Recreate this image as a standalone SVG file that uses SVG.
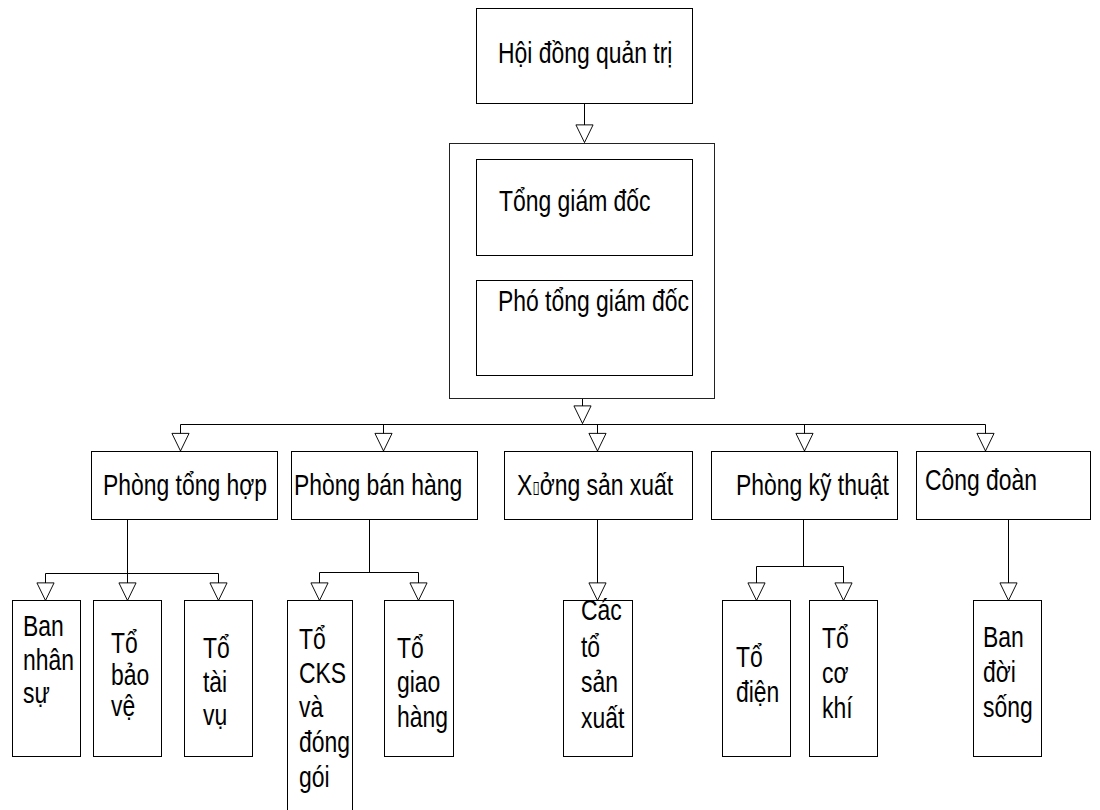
<svg xmlns="http://www.w3.org/2000/svg" width="1100" height="810" viewBox="0 0 1100 810">
  <style>
    .box { fill: #fff; stroke: #000; stroke-width: 1; }
    .frame { fill: #fff; stroke: #222; stroke-width: 1; }
    .lbl { font-family: "Liberation Sans", Arial, sans-serif; font-size: 29px; fill: #000; }
    .wire { fill: none; stroke: #000; stroke-width: 1; }
    .arrow { marker-end: url(#tri); }
    .tofu { font-family: "DejaVu Sans", sans-serif; font-size: 17px; }
  </style>
  <defs>
    <!-- hollow triangular arrowhead; tip sits on the end of the line -->
    <marker id="tri" markerUnits="userSpaceOnUse" markerWidth="20" markerHeight="20" refX="18.5" refY="9" orient="auto" viewBox="-1 -1 21 20">
      <path d="M0,0 L18.5,9 L0,18 Z" fill="#fff" stroke="#000" stroke-width="1"/>
    </marker>
  </defs>

  <rect width="1100" height="810" fill="#fff"/>

  <!-- connectors -->
  <g id="connectors">
    <path class="wire arrow" d="M584.5,103 V142.5"/>
    <path class="wire arrow" d="M582.5,398 V423.5"/>
    <path class="wire" d="M180.5,424.5 H985.5"/>
    <path class="wire arrow" d="M180.5,424.5 V451"/>
    <path class="wire arrow" d="M383.5,424.5 V451"/>
    <path class="wire arrow" d="M597.5,424.5 V451"/>
    <path class="wire arrow" d="M804.5,424.5 V451"/>
    <path class="wire arrow" d="M985.5,424.5 V451"/>

    <!-- Phòng tổng hợp branch -->
    <path class="wire" d="M127.5,519 V573.5 M45.5,573.5 H218.5"/>
    <path class="wire arrow" d="M45.5,573.5 V600.5"/>
    <path class="wire arrow" d="M127.5,573.5 V600.5"/>
    <path class="wire arrow" d="M218.5,573.5 V600.5"/>

    <!-- Phòng bán hàng branch -->
    <path class="wire" d="M369.5,519 V572.5 M319.5,572.5 H418.5"/>
    <path class="wire arrow" d="M319.5,572.5 V600.5"/>
    <path class="wire arrow" d="M418.5,572.5 V600.5"/>

    <!-- Xưởng sản xuất branch -->
    <path class="wire arrow" d="M597.5,519 V600.5"/>

    <!-- Phòng kỹ thuật branch -->
    <path class="wire" d="M803.5,519 V566.5 M756.5,566.5 H843.5"/>
    <path class="wire arrow" d="M756.5,566.5 V600.5"/>
    <path class="wire arrow" d="M843.5,566.5 V600.5"/>

    <!-- Công đoàn branch -->
    <path class="wire arrow" d="M1008.5,519 V600.5"/>
  </g>

  <!-- board -->
  <g id="hoi-dong-quan-tri">
    <rect class="box" x="476.5" y="8.5" width="216" height="95"/>
    <text class="lbl" transform="translate(498,63) scale(0.79,1)">Hội đồng quản trị</text>
  </g>

  <!-- management block -->
  <g id="ban-giam-doc">
    <rect class="frame" x="449.5" y="143.5" width="265" height="255"/>
  </g>
  <g id="tong-giam-doc">
    <rect class="box" x="476.5" y="159.5" width="216" height="96"/>
    <text class="lbl" transform="translate(499,211) scale(0.79,1)">Tổng giám đốc</text>
  </g>
  <g id="pho-tong-giam-doc">
    <rect class="box" x="476.5" y="280.5" width="216" height="95"/>
    <text class="lbl" transform="translate(498,311) scale(0.79,1)">Phó tổng giám đốc</text>
  </g>

  <!-- departments -->
  <g id="phong-tong-hop">
    <rect class="box" x="91.5" y="451.5" width="186" height="68"/>
    <text class="lbl" transform="translate(103,495) scale(0.79,1)">Phòng tổng hợp</text>
  </g>
  <g id="phong-ban-hang">
    <rect class="box" x="291.5" y="451.5" width="186" height="68"/>
    <text class="lbl" transform="translate(294,495) scale(0.79,1)">Phòng bán hàng</text>
  </g>
  <g id="xuong-san-xuat">
    <rect class="box" x="504.5" y="451.5" width="188" height="68"/>
    <text class="lbl" transform="translate(517,495) scale(0.79,1)">X<tspan class="tofu" dy="-2">▯</tspan><tspan dy="2">ởng sản xuất</tspan></text>
  </g>
  <g id="phong-ky-thuat">
    <rect class="box" x="711.5" y="451.5" width="186" height="68"/>
    <text class="lbl" transform="translate(736,495) scale(0.79,1)">Phòng kỹ thuật</text>
  </g>
  <g id="cong-doan">
    <rect class="box" x="916.5" y="451.5" width="174" height="68"/>
    <text class="lbl" transform="translate(925,490) scale(0.79,1)">Công đoàn</text>
  </g>

  <!-- teams -->
  <g id="ban-nhan-su">
    <rect class="box" x="12.5" y="600.5" width="68" height="156"/>
    <text class="lbl" transform="translate(23,636) scale(0.79,1)"><tspan x="0" y="0">Ban</tspan><tspan x="0" y="34">nhân</tspan><tspan x="0" y="67">sự</tspan></text>
  </g>
  <g id="to-bao-ve">
    <rect class="box" x="93.5" y="600.5" width="68" height="156"/>
    <text class="lbl" transform="translate(111,653) scale(0.79,1)"><tspan x="0" y="0">Tổ</tspan><tspan x="0" y="32">bảo</tspan><tspan x="0" y="63">vệ</tspan></text>
  </g>
  <g id="to-tai-vu">
    <rect class="box" x="184.5" y="600.5" width="68" height="156"/>
    <text class="lbl" transform="translate(203,658) scale(0.79,1)"><tspan x="0" y="0">Tổ</tspan><tspan x="0" y="34">tài</tspan><tspan x="0" y="67">vụ</tspan></text>
  </g>
  <g id="to-cks-dong-goi">
    <rect class="box" x="287.5" y="600.5" width="65" height="220"/>
    <text class="lbl" transform="translate(299,649) scale(0.79,1)"><tspan x="0" y="0">Tổ</tspan><tspan x="0" y="34">CKS</tspan><tspan x="0" y="68">và</tspan><tspan x="0" y="103">đóng</tspan><tspan x="0" y="138">gói</tspan></text>
  </g>
  <g id="to-giao-hang">
    <rect class="box" x="384.5" y="600.5" width="69" height="156"/>
    <text class="lbl" transform="translate(397,658) scale(0.79,1)"><tspan x="0" y="0">Tổ</tspan><tspan x="0" y="34">giao</tspan><tspan x="0" y="69">hàng</tspan></text>
  </g>
  <g id="cac-to-san-xuat">
    <rect class="box" x="563.5" y="600.5" width="69" height="156"/>
    <text class="lbl" transform="translate(581,620) scale(0.79,1)"><tspan x="0" y="0">Các</tspan><tspan x="0" y="37">tổ</tspan><tspan x="0" y="72">sản</tspan><tspan x="0" y="108">xuất</tspan></text>
  </g>
  <g id="to-dien">
    <rect class="box" x="722.5" y="600.5" width="68" height="156"/>
    <text class="lbl" transform="translate(736,667) scale(0.79,1)"><tspan x="0" y="0">Tổ</tspan><tspan x="0" y="35">điện</tspan></text>
  </g>
  <g id="to-co-khi">
    <rect class="box" x="809.5" y="600.5" width="68" height="156"/>
    <text class="lbl" transform="translate(822,648) scale(0.79,1)"><tspan x="0" y="0">Tổ</tspan><tspan x="0" y="35">cơ</tspan><tspan x="0" y="70">khí</tspan></text>
  </g>
  <g id="ban-doi-song">
    <rect class="box" x="973.5" y="600.5" width="68" height="156"/>
    <text class="lbl" transform="translate(983,647) scale(0.79,1)"><tspan x="0" y="0">Ban</tspan><tspan x="0" y="35">đời</tspan><tspan x="0" y="70">sống</tspan></text>
  </g>
</svg>
